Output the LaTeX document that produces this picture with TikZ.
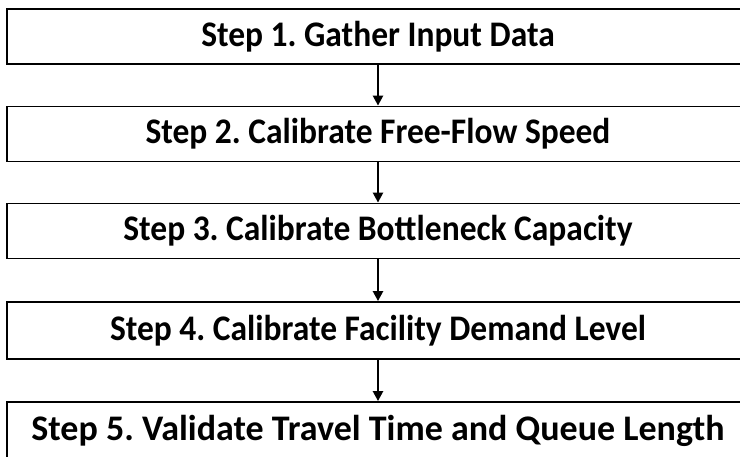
\documentclass[tikz,border=0pt]{standalone}
\usepackage{fontspec}
\setmainfont[FakeStretch=0.93]{Carlito}
\newfontfamily\widefont{Carlito}
\usetikzlibrary{arrows.meta}
\frenchspacing
\tikzset{
  stepbox/.style={draw, line width=1.8pt, minimum width=742pt, minimum height=55pt,
    inner sep=0pt, font=\fontsize{36}{40}\selectfont\bfseries},
  flow/.style={line width=2.4pt, -{Triangle[width=10pt,length=10pt]}}
}
\begin{document}
\begin{tikzpicture}[x=1pt,y=1pt]
    \useasboundingbox (0,0) rectangle (740,-456);
    \clip (0,0) rectangle (740,-456);
      \node[stepbox] (s1) at (378,-36.5) {Step 1. Gather Input Data};
      \node[stepbox] (s2) at (378,-134) {Step 2. Calibrate Free-Flow Speed};
      \node[stepbox] (s3) at (378,-231) {Step 3. Calibrate Bottleneck Capacity};
      \node[stepbox,minimum height=57pt] (s4) at (378,-330.5) {Step 4. Calibrate Facility Demand Level};
      \node[stepbox,minimum height=57pt] (s5) at (378,-430.5) {\widefont Step 5. Validate Travel Time and Queue Length};
      \foreach \a/\b in {s1/s2,s2/s3,s3/s4,s4/s5}
        \draw [flow] (\a) -- (\b);
 \end{tikzpicture}
\end{document}
